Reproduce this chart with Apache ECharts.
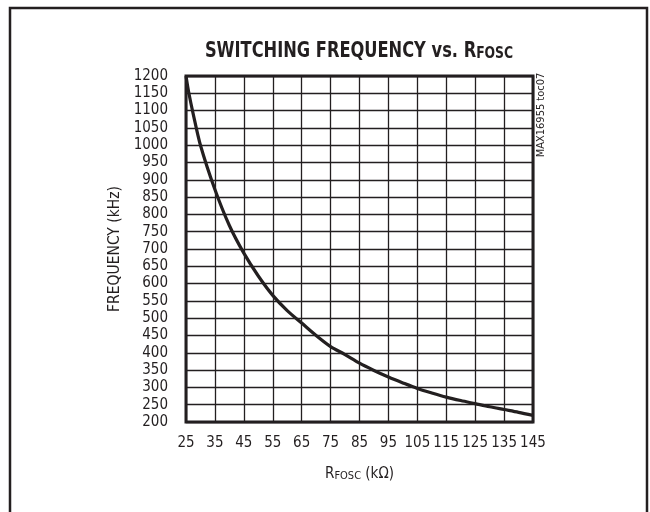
<!DOCTYPE html>
<html>
<head>
<meta charset="utf-8">
<script src="https://cdn.jsdelivr.net/npm/echarts@6/dist/echarts.min.js"></script>
<style>
  html, body { margin: 0; padding: 0; background: #fff; }
  #chart { width: 650px; height: 512px; }
</style>
</head>
<body>
<div id="chart"></div>
<script>
// Switching frequency vs. oscillator resistor
const resistanceKOhm = [25, 26, 27.5, 30, 35, 40, 45, 50, 55, 60, 65, 70, 75, 80, 85, 90, 95, 100, 105, 110, 115, 120, 125, 130, 135, 140, 145];
const frequencyKHz   = [1200, 1150, 1090, 1000, 872, 768, 688, 622, 566, 522, 486, 450, 418, 395, 370, 349, 330, 313, 297, 284, 272, 262, 253, 244, 236, 228, 219];

const xTickLabels = [25, 35, 45, 55, 65, 75, 85, 95, 105, 115, 125, 135, 145];
const yTickLabels = [200, 250, 300, 350, 400, 450, 500, 550, 600, 650, 700, 750, 800, 850, 900, 950, 1000, 1050, 1100, 1150, 1200];

// x axis runs as an offset from the first tick so the grid starts on a round value
const xStart = xTickLabels[0];
const points = resistanceKOhm.map((r, i) => [r - xStart, frequencyKHz[i]]);

const ink = '#231f20';
const narrow = '"DejaVu Sans Condensed", "Liberation Sans Narrow", "Liberation Sans", sans-serif';

const chart = echarts.init(document.getElementById('chart'), null, { renderer: 'canvas' });
chart.setOption({
  animation: false,
  backgroundColor: '#fff',
  grid: {
    left: 186, top: 76, width: 347, height: 346,
    show: true, borderColor: ink, borderWidth: 3, backgroundColor: 'transparent'
  },
  xAxis: {
    type: 'value',
    min: 0,
    max: xTickLabels[xTickLabels.length - 1] - xStart,
    interval: 10,
    axisLine: { show: false },
    axisTick: { show: false },
    splitLine: { show: true, lineStyle: { color: ink, width: 1.3 } },
    axisLabel: {
      margin: 14,
      fontFamily: narrow, fontSize: 15, color: ink,
      formatter: v => String(v + xStart)
    },
    name: '{r|R}{s|FOSC}{r| (kΩ)}',
    nameLocation: 'middle',
    nameGap: 40,
    nameTextStyle: {
      rich: {
        r: { fontFamily: narrow, fontSize: 15, color: ink, lineHeight: 20, verticalAlign: 'bottom' },
        s: { fontFamily: narrow, fontSize: 11, color: ink, lineHeight: 20, verticalAlign: 'bottom', padding: [3, 0, 0, 0] }
      }
    }
  },
  yAxis: {
    type: 'value',
    min: yTickLabels[0],
    max: yTickLabels[yTickLabels.length - 1],
    interval: 50,
    axisLine: { show: false },
    axisTick: { show: false },
    splitLine: { show: true, lineStyle: { color: ink, width: 1.3 } },
    axisLabel: {
      margin: 18,
      fontFamily: narrow, fontSize: 15, color: ink, lineHeight: 14,
      formatter: v => String(v)
    },
    name: 'FREQUENCY (kHz)',
    nameLocation: 'middle',
    nameGap: 53,
    nameTextStyle: { fontFamily: narrow, fontSize: 15.5, color: ink }
  },
  series: [{
    type: 'line',
    data: points,
    smooth: 0.3,
    showSymbol: false,
    lineStyle: { color: ink, width: 3.2 },
    z: 5
  }],
  graphic: [
    {
      type: 'rect',
      shape: { x: 10, y: 8, width: 637, height: 530 },
      style: { fill: 'none', stroke: ink, lineWidth: 2.5 },
      silent: true
    },
    {
      // chart title, bold and condensed, with the resistor name subscripted
      type: 'text',
      x: 359, y: 50,
      scaleX: 0.86,
      style: {
        text: '{a|SWITCHING FREQUENCY vs. R}{b|FOSC}',
        align: 'center', verticalAlign: 'middle',
        rich: {
          a: { fontFamily: narrow, fontWeight: 'bold', fontSize: 21, fill: ink, lineHeight: 24, verticalAlign: 'bottom' },
          b: { fontFamily: narrow, fontWeight: 'bold', fontSize: 16, fill: ink, lineHeight: 24, verticalAlign: 'bottom', padding: [3, 0, 0, 0] }
        }
      },
      silent: true
    },
    {
      type: 'text',
      x: 541, y: 115,
      rotation: Math.PI / 2,
      style: {
        text: 'MAX16955 toc07',
        fontFamily: narrow, fontSize: 11, fill: ink,
        align: 'center', verticalAlign: 'middle'
      },
      silent: true
    }
  ]
});
</script>
</body>
</html>
